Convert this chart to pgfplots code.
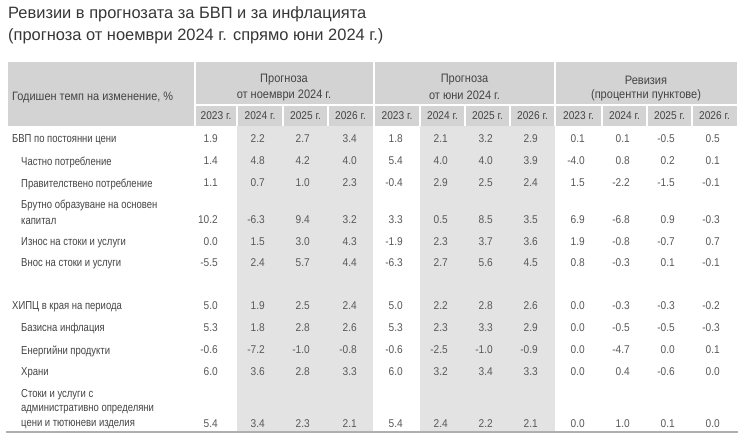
\documentclass[border=0pt]{standalone}
\usepackage{fontspec}
\setmainfont{Liberation Sans}
\newfontfamily\condfont[FakeStretch=0.82]{Liberation Sans}
\newfontfamily\numfont[FakeStretch=0.9]{Liberation Sans}
\usepackage{pgfplots}
\usepackage{pgfplotstable}
\pgfplotsset{compat=1.18}
\definecolor{hdr}{RGB}{211,211,211}
\definecolor{shade}{RGB}{227,227,227}
\definecolor{txt}{RGB}{68,68,68}
\definecolor{numc}{RGB}{88,88,88}
\definecolor{rule}{RGB}{175,175,175}
\definecolor{ttl}{RGB}{55,55,55}

\pgfplotstableread[col sep=comma]{
y,c1,c2,c3,c4,c5,c6,c7,c8,c9,c10,c11,c12
139,1.9,2.2,2.7,3.4,1.8,2.1,3.2,2.9,0.1,0.1,-0.5,0.5
161,1.4,4.8,4.2,4.0,5.4,4.0,4.0,3.9,-4.0,0.8,0.2,0.1
183,1.1,0.7,1.0,2.3,-0.4,2.9,2.5,2.4,1.5,-2.2,-1.5,-0.1
220,10.2,-6.3,9.4,3.2,3.3,0.5,8.5,3.5,6.9,-6.8,0.9,-0.3
242,0.0,1.5,3.0,4.3,-1.9,2.3,3.7,3.6,1.9,-0.8,-0.7,0.7
263,-5.5,2.4,5.7,4.4,-6.3,2.7,5.6,4.5,0.8,-0.3,0.1,-0.1
306,5.0,1.9,2.5,2.4,5.0,2.2,2.8,2.6,0.0,-0.3,-0.3,-0.2
328,5.3,1.8,2.8,2.6,5.3,2.3,3.3,2.9,0.0,-0.5,-0.5,-0.3
350,-0.6,-7.2,-1.0,-0.8,-0.6,-2.5,-1.0,-0.9,0.0,-4.7,0.0,0.1
372,6.0,3.6,2.8,3.3,6.0,3.2,3.4,3.3,0.0,0.4,-0.6,0.0
424,5.4,3.4,2.3,2.1,5.4,2.4,2.2,2.1,0.0,1.0,0.1,0.0
}\vals

\pgfplotstableread[col sep=semicolon]{
x;y;t
12;140;БВП по постоянни цени
21;162;Частно потребление
21;184;Правителствено потребление
21;205;Брутно образуване на основен
21;221;капитал
21;243;Износ на стоки и услуги
21;264;Внос на стоки и услуги
12;307;ХИПЦ в края на периода
21;329;Базисна инфлация
21;351;Енергийни продукти
21;373;Храни
21;395;Стоки и услуги с
21;410;административно определяни
21;425;цени и тютюневи изделия
}\labels

\pgfplotstableread[col sep=semicolon]{
x;y;t
216;116;2023 г.
260;116;2024 г.
305.5;116;2025 г.
350.5;116;2026 г.
397;116;2023 г.
442.5;116;2024 г.
487.5;116;2025 г.
532.5;116;2026 г.
578.5;116;2023 г.
624.5;116;2024 г.
669.5;116;2025 г.
714.5;116;2026 г.
}\years

\pgfplotstableread[col sep=semicolon]{
x;y;t
284;80;Прогноза
284;95;от ноември 2024 г.
464.5;80;Прогноза
464.5;95;от юни 2024 г.
646;80;Ревизия
646;95;(процентни пунктове)
}\heads

\begin{document}
\begin{tikzpicture}
\begin{axis}[
  scale only axis, width=740bp, height=434bp,
  xmin=0, xmax=740, ymin=0, ymax=434, y dir=reverse,
  hide axis, clip=false,
  numcol/.style={only marks, mark=none, point meta=explicit symbolic,
    nodes near coords={\pgfplotspointmeta},
    every node near coord/.append style={anchor=east, inner sep=0pt, text=numc,
      font=\numfont\fontsize{11.3}{12}\selectfont}},
]
% background
\addplot[fill=white, draw=none] coordinates {(0,0) (740,0) (740,434) (0,434)} --cycle;
% header band
\addplot[fill=hdr, draw=none] coordinates {(8,62) (737,62) (737,126) (8,126)} --cycle;
% body shading
\addplot[fill=shade, draw=none] coordinates {(237,126) (373,126) (373,431) (237,431)} --cycle;
\addplot[fill=shade, draw=none] coordinates {(420,126) (555,126) (555,431) (420,431)} --cycle;
% white separators in header
\addplot[white, line width=2bp] coordinates {(195,62) (195,126)};
\addplot[white, line width=2bp] coordinates {(374,62) (374,126)};
\addplot[white, line width=2bp] coordinates {(555,62) (555,126)};
\addplot[white, line width=2bp] coordinates {(195,105) (737,105)};
\addplot[white, line width=1.5bp] coordinates {(237,105) (237,126)};
\addplot[white, line width=1.5bp] coordinates {(283,105) (283,126)};
\addplot[white, line width=1.5bp] coordinates {(328,105) (328,126)};
\addplot[white, line width=1.5bp] coordinates {(420,105) (420,126)};
\addplot[white, line width=1.5bp] coordinates {(465,105) (465,126)};
\addplot[white, line width=1.5bp] coordinates {(510,105) (510,126)};
\addplot[white, line width=1.5bp] coordinates {(602,105) (602,126)};
\addplot[white, line width=1.5bp] coordinates {(647,105) (647,126)};
\addplot[white, line width=1.5bp] coordinates {(692,105) (692,126)};
% bottom rule
\addplot[rule, line width=1.5bp] coordinates {(6,432) (738,432)};
% numbers
\addplot[numcol] table[x expr=218, y=y, meta=c1] {\vals};
\addplot[numcol] table[x expr=265, y=y, meta=c2] {\vals};
\addplot[numcol] table[x expr=310, y=y, meta=c3] {\vals};
\addplot[numcol] table[x expr=357, y=y, meta=c4] {\vals};
\addplot[numcol] table[x expr=403, y=y, meta=c5] {\vals};
\addplot[numcol] table[x expr=448, y=y, meta=c6] {\vals};
\addplot[numcol] table[x expr=493, y=y, meta=c7] {\vals};
\addplot[numcol] table[x expr=538, y=y, meta=c8] {\vals};
\addplot[numcol] table[x expr=585, y=y, meta=c9] {\vals};
\addplot[numcol] table[x expr=630, y=y, meta=c10] {\vals};
\addplot[numcol] table[x expr=675, y=y, meta=c11] {\vals};
\addplot[numcol] table[x expr=720, y=y, meta=c12] {\vals};
% row labels
\addplot[only marks, mark=none, point meta=explicit symbolic,
  nodes near coords={\pgfplotspointmeta},
  every node near coord/.append style={anchor=west, inner sep=0pt, text=txt,
    font=\condfont\fontsize{11.6}{12}\selectfont}]
  table[x=x, y=y, meta=t] {\labels};
% year labels
\addplot[only marks, mark=none, point meta=explicit symbolic,
  nodes near coords={\pgfplotspointmeta},
  every node near coord/.append style={anchor=center, inner sep=0pt, text=txt,
    font=\numfont\fontsize{11.3}{12}\selectfont}]
  table[x=x, y=y, meta=t] {\years};
% group headers
\addplot[only marks, mark=none, point meta=explicit symbolic,
  nodes near coords={\pgfplotspointmeta},
  every node near coord/.append style={anchor=center, inner sep=0pt, text=txt,
    font=\numfont\fontsize{12.3}{12}\selectfont}]
  table[x=x, y=y, meta=t] {\heads};
\node[anchor=west, inner sep=0pt, text=txt, font=\numfont\fontsize{12.2}{12}\selectfont]
  at (axis cs:12,97) {Годишен темп на изменение, \%};
% title
\node[anchor=west, inner sep=0pt, text=ttl, font=\fontsize{16.5}{18}\selectfont]
  at (axis cs:8,14) {Ревизии в прогнозата за БВП и за инфлацията};
\node[anchor=west, inner sep=0pt, text=ttl, font=\fontsize{16.5}{18}\selectfont]
  at (axis cs:8,36) {(прогноза от ноември 2024 г. спрямо юни 2024 г.)};
\end{axis}
\end{tikzpicture}
\end{document}
